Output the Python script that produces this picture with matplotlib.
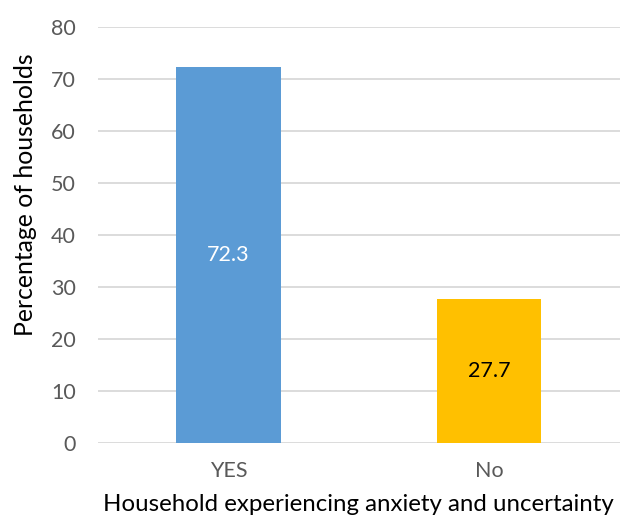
import matplotlib.pyplot as plt

# household responses
categories = ["YES", "No"]
percentages = [72.3, 27.7]
bar_colors = ["#5B9BD5", "#FFC000"]
label_colors = ["white", "black"]
yticks = [0, 10, 20, 30, 40, 50, 60, 70, 80]

plt.rcParams['font.family'] = ['Lato', 'DejaVu Sans']

fig = plt.figure(figsize=(6.26, 5.19), dpi=100)
ax = fig.add_axes([0.1565, 0.1464, 0.8335, 0.8016])

x = range(len(categories))
bars = ax.bar(x, percentages, width=0.40, color=bar_colors, zorder=3)

for rect, val, c in zip(bars, percentages, label_colors):
    ax.text(rect.get_x() + rect.get_width() / 2, val / 2, f"{val}",
            ha='center', va='center', color=c, fontsize=15.5, zorder=4)

ax.set_xlim(-0.5, 1.5)
ax.set_ylim(0, 80)
ax.set_yticks(yticks)
ax.set_xticks(list(x))
ax.set_xticklabels(categories)
ax.yaxis.grid(True, color="#D9D9D9", linewidth=1.3, zorder=0)
ax.set_axisbelow(True)

for s in ax.spines.values():
    s.set_visible(False)
ax.tick_params(axis='both', length=0, labelsize=15.5, labelcolor="#595959")
ax.tick_params(axis='y', pad=16)
ax.tick_params(axis='x', pad=13)

ax.set_xlabel("Household experiencing anxiety and uncertainty", fontsize=17.3, labelpad=9)
ax.set_ylabel("Percentage of households", fontsize=17.8)
ax.yaxis.set_label_coords(-0.116, 0.596)

fig.savefig("out.png", dpi=100)
